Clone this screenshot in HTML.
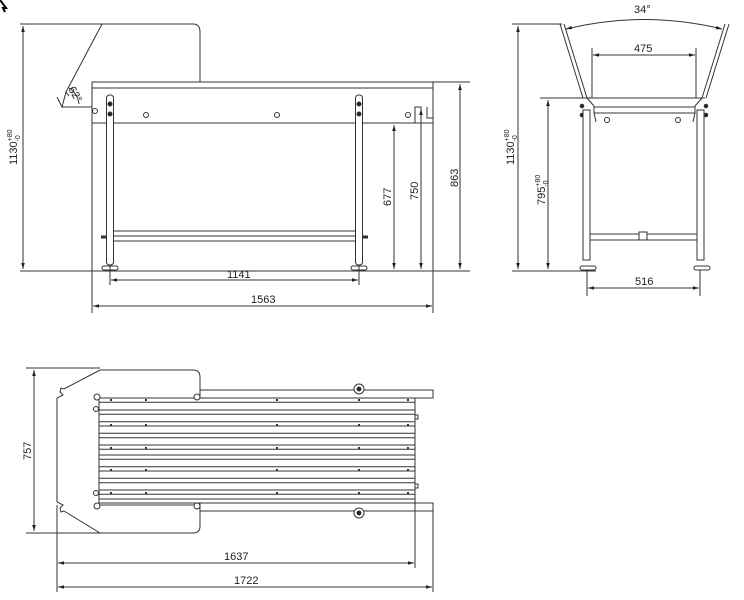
<!DOCTYPE html>
<html><head><meta charset="utf-8"><style>
html,body{margin:0;padding:0;background:#fff;}
svg{display:block;}
text{font-family:"Liberation Sans",sans-serif;font-size:11px;fill:#222;}
</style></head><body>
<svg width="744" height="600" viewBox="0 0 744 600" xmlns="http://www.w3.org/2000/svg">
<defs>
<marker id="a" viewBox="0 0 10 10" refX="10" refY="5" markerWidth="6" markerHeight="6" orient="auto-start-reverse"><path d="M0,2 L10,5 L0,8 z" fill="#222"/></marker>
</defs>
<g stroke="#333" stroke-width="1" fill="none">
<!-- cursor -->
<path d="M0,0 L6,8 L3,8 L5,12" stroke="#000" stroke-width="2"/>
<!-- FRONT VIEW -->
<path d="M20,24 H193 Q200,24 200,32 V82"/>
<path d="M102,24 L66,92"/>
<path d="M57,97 L62,107 L66,92 L69,96 M62,107 H92"/>
<rect x="92" y="82" width="341" height="41"/>
<line x1="92" y1="88" x2="433" y2="88"/>
<path d="M415,123 V107 H421 V112 M427,107 V118 H433"/>
<circle cx="95" cy="111" r="2.5"/><circle cx="146" cy="115" r="2.5"/><circle cx="277" cy="115" r="2.5"/><circle cx="408" cy="115" r="2.5"/>
<rect x="106.5" y="95" width="7" height="170" rx="3" fill="#fff"/>
<rect x="355.5" y="95" width="7" height="170" rx="3" fill="#fff"/>
<circle cx="110" cy="104" r="2" fill="#222"/><circle cx="110" cy="114" r="2" fill="#222"/>
<circle cx="359" cy="104" r="2" fill="#222"/><circle cx="359" cy="114" r="2" fill="#222"/>
<rect x="113.5" y="231" width="242" height="10" fill="#fff"/>
<line x1="113.5" y1="236" x2="355.5" y2="236"/>
<path d="M101,237 h5 M363,237 h5" stroke-width="3"/>
<rect x="102" y="266" width="16" height="4" rx="2"/>
<rect x="351" y="266" width="16" height="4" rx="2"/>
<line x1="20" y1="271" x2="470" y2="271"/>
<line x1="23" y1="26" x2="23" y2="269" marker-start="url(#a)" marker-end="url(#a)"/>
<line x1="394" y1="125" x2="394" y2="269" marker-start="url(#a)" marker-end="url(#a)"/>
<line x1="421" y1="109" x2="421" y2="269" marker-start="url(#a)" marker-end="url(#a)"/>
<path d="M433,82 H470"/>
<line x1="460" y1="84" x2="460" y2="269" marker-start="url(#a)" marker-end="url(#a)"/>
<path d="M110,265 V285 M359,265 V285 M92,123 V313 M433,123 V313"/>
<line x1="111" y1="280" x2="358" y2="280" marker-start="url(#a)" marker-end="url(#a)"/>
<line x1="93" y1="306" x2="432" y2="306" marker-start="url(#a)" marker-end="url(#a)"/>
<path d="M69,88 A22,22 0 0 1 79,104"/>
<!-- SIDE VIEW -->
<path d="M560,24 L583,98 M564,24 L587,98 M725,24 L702,98 M729,24 L706,98"/>
<path d="M566,29 Q644,10 722,29" marker-start="url(#a)" marker-end="url(#a)"/>
<path d="M592,48 V98 M696,48 V98"/>
<line x1="593" y1="55" x2="695" y2="55" marker-start="url(#a)" marker-end="url(#a)"/>
<path d="M540,98 H705 M594,107 H695 M594,113 H695 M587,98 L594,106 V113 L596,122 M702,98 L695,106 V113 L693,122"/>
<circle cx="607" cy="120" r="2.5"/><circle cx="678" cy="120" r="2.5"/>
<circle cx="582" cy="106" r="1.8" fill="#222"/><circle cx="582" cy="115" r="1.8" fill="#222"/>
<circle cx="706" cy="106" r="1.8" fill="#222"/><circle cx="706" cy="115" r="1.8" fill="#222"/>
<rect x="583" y="110" width="7" height="150" fill="#fff"/>
<rect x="697" y="110" width="7" height="150" fill="#fff"/>
<rect x="590" y="234" width="107" height="6"/>
<rect x="639" y="232" width="8" height="8" fill="#fff"/>
<rect x="580" y="266" width="16" height="4" rx="2"/>
<rect x="694" y="266" width="16" height="4" rx="2"/>
<line x1="512" y1="271" x2="596" y2="271"/>
<line x1="518" y1="26" x2="518" y2="269" marker-start="url(#a)" marker-end="url(#a)"/>
<line x1="512" y1="24" x2="562" y2="24"/>
<line x1="548" y1="100" x2="548" y2="269" marker-start="url(#a)" marker-end="url(#a)"/>
<path d="M587,270 V296 M700,270 V296"/>
<line x1="588" y1="288" x2="699" y2="288" marker-start="url(#a)" marker-end="url(#a)"/>
<!-- TOP VIEW -->
<path d="M100,370 H193 Q200,370 200,377 V398 H97"/>
<path d="M100,370 L64,389 L61,388 L60,392 L63,395 L57,398 V502 L63,505 L60,508 L61,512 L64,511 L100,533 H193 Q200,533 200,526 V505 H97"/>
<rect x="200" y="390" width="233" height="8"/>
<rect x="200" y="503" width="233" height="8"/>
<rect x="99" y="398" width="316" height="105"/>
<path d="M99,402.3H415 M99,410H415 M99,414.3H415 M99,421.7H415 M99,426H415 M99,433.3H415 M99,437.7H415 M99,445H415 M99,449.3H415 M99,455H415 M99,459.3H415 M99,466.7H415 M99,471H415 M99,478.3H415 M99,482.7H415 M99,490H415 M99,494.3H415 M99,499H415"/>
<g stroke-width="1.5">
<path d="M111,398V503 M146,398V503 M277,398V503 M359,398V503 M408,398V503" stroke="#fff" stroke-width="0"/>
</g>
<path d="M111,399v2 M146,399v2 M277,399v2 M359,399v2 M408,399v2 M111,424v2 M146,424v2 M277,424v2 M359,424v2 M408,424v2 M111,447v2 M146,447v2 M277,447v2 M359,447v2 M408,447v2 M111,469v2 M146,469v2 M277,469v2 M359,469v2 M408,469v2 M111,492v2 M146,492v2 M277,492v2 M359,492v2 M408,492v2" stroke-width="2"/>
<circle cx="97" cy="397" r="3" fill="#fff"/><circle cx="197" cy="397" r="3" fill="#fff"/>
<circle cx="97" cy="506" r="3" fill="#fff"/><circle cx="197" cy="506" r="3" fill="#fff"/>
<circle cx="96" cy="409" r="2.5"/><circle cx="96" cy="493" r="2.5"/>
<circle cx="359" cy="389" r="5" fill="#fff"/><circle cx="359" cy="389" r="2" fill="#222"/>
<circle cx="359" cy="513" r="5" fill="#fff"/><circle cx="359" cy="513" r="2" fill="#222"/>
<rect x="415" y="415" width="3" height="4"/><rect x="415" y="484" width="3" height="4"/>
<path d="M26,368 H100 M26,533 H100"/>
<line x1="34" y1="370" x2="34" y2="531" marker-start="url(#a)" marker-end="url(#a)"/>
<path d="M57,505 V592 M415,503 V568 M433,511 V592"/>
<line x1="58" y1="563" x2="414" y2="563" marker-start="url(#a)" marker-end="url(#a)"/>
<line x1="58" y1="587" x2="432" y2="587" marker-start="url(#a)" marker-end="url(#a)"/>
</g>
<!-- text -->
<text transform="translate(17,165) rotate(-90)">1130<tspan font-size="7" dy="-5">+80</tspan><tspan font-size="7" dx="-12" dy="8">-0</tspan></text>
<text x="68" y="97" font-size="10" transform="rotate(60 75 93)">62°</text>
<text transform="translate(391,206) rotate(-90)">677</text>
<text transform="translate(418,200) rotate(-90)">750</text>
<text transform="translate(458,187) rotate(-90)">863</text>
<text x="227" y="278">1141</text>
<text x="251" y="303">1563</text>
<text x="634" y="13">34°</text>
<text x="634" y="52">475</text>
<text transform="translate(514,165) rotate(-90)">1130<tspan font-size="7" dy="-5">+80</tspan><tspan font-size="7" dx="-12" dy="8">-0</tspan></text>
<text transform="translate(545,205) rotate(-90)">795<tspan font-size="7" dy="-5">+80</tspan><tspan font-size="7" dx="-12" dy="8">-0</tspan></text>
<text x="635" y="285">516</text>
<text transform="translate(31,460) rotate(-90)">757</text>
<text x="224" y="560">1637</text>
<text x="234" y="584">1722</text>
</svg>
</body></html>
